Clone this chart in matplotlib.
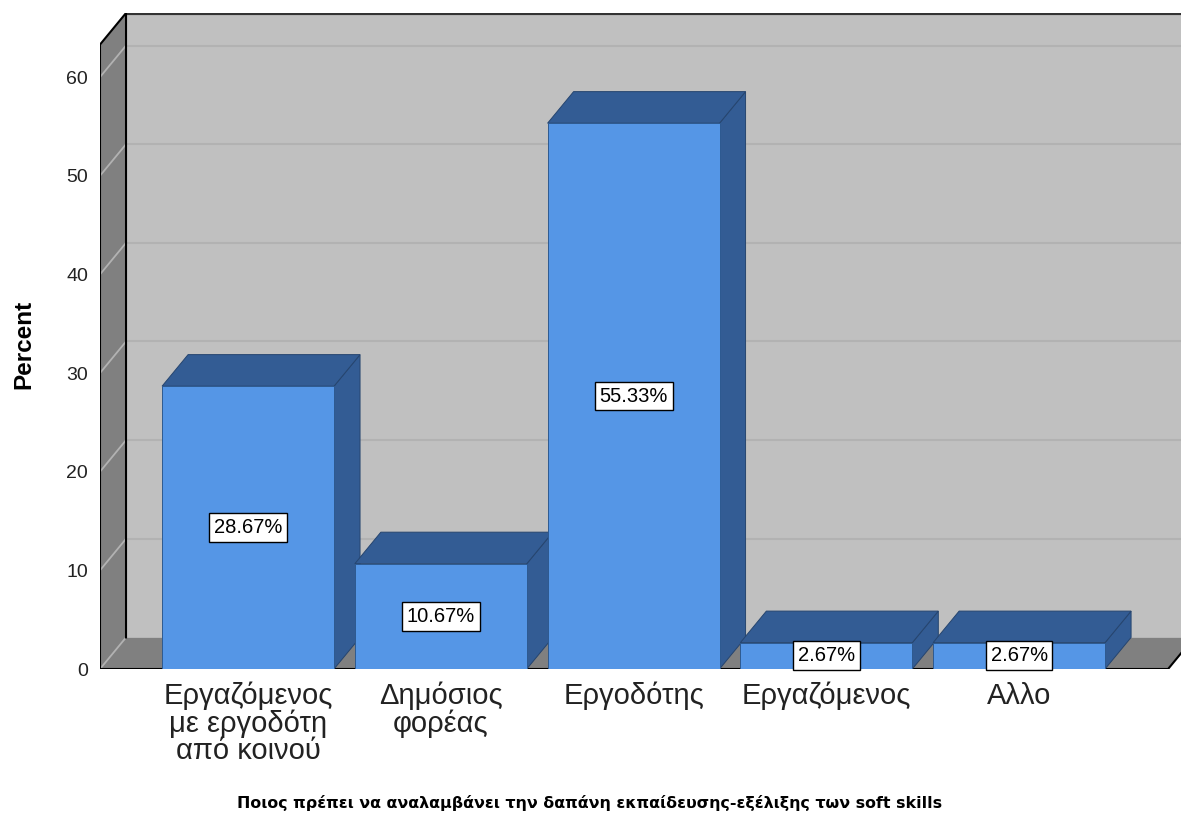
import matplotlib.pyplot as plt
from matplotlib.patches import Polygon

plt.rcParams['font.family'] = ['Liberation Sans', 'DejaVu Sans']

# who should pay for soft-skills training (percent of respondents)
categories = ["Εργαζόμενος\nμε εργοδότη\nαπό κοινού", "Δημόσιος\nφορέας", "Εργοδότης",
              "Εργαζόμενος", "Αλλο"]
percents = [28.67, 10.67, 55.33, 2.67, 2.67]
y_ticks = [0, 10, 20, 30, 40, 50, 60]
title = "Ποιος πρέπει να αναλαμβάνει την δαπάνη εκπαίδευσης-εξέλιξης των soft skills"

# colours
FACE = "#5596E6"
SHADE = "#335C94"
WALL = "#C0C0C0"
SIDE_WALL = "#808080"
GRID = "#B2B2B2"

# pseudo-3d geometry in data units
X_LEFT, X_RIGHT = -0.768, 4.773
Y_TOP = 63.3
DX, DY = 0.135, 3.2
BAR_W = 0.892

W, H = 1181, 821
fig = plt.figure(figsize=(W / 100, H / 100), dpi=100)
ax = fig.add_axes([100 / W, 152 / H, 1081 / W, 656 / H])
ax.set_xlim(X_LEFT, 4.840)
ax.set_ylim(0, Y_TOP + DY)
for s in ax.spines.values():
    s.set_visible(False)


def poly(pts, fc, ec="none", lw=0.0, z=1):
    ax.add_patch(Polygon(pts, closed=True, facecolor=fc, edgecolor=ec,
                         linewidth=lw, zorder=z, joinstyle="miter"))


# back wall, left wall, floor
poly([(X_LEFT + DX, DY), (X_RIGHT + 2, DY), (X_RIGHT + 2, Y_TOP + DY),
      (X_LEFT + DX, Y_TOP + DY)], WALL, z=1)
poly([(X_LEFT, 0), (X_LEFT + DX, DY), (X_LEFT + DX, Y_TOP + DY), (X_LEFT, Y_TOP)],
     SIDE_WALL, z=1)
poly([(X_LEFT, 0), (X_RIGHT, 0), (X_RIGHT + DX, DY), (X_LEFT + DX, DY)],
     SIDE_WALL, z=1)

# grid lines on back and left walls
for t in y_ticks:
    ax.plot([X_LEFT, X_LEFT + DX], [t, t + DY], color=GRID, lw=1.3, zorder=2)
    if t > 0:
        ax.plot([X_LEFT + DX, X_RIGHT + 2], [t + DY, t + DY], color=GRID, lw=1.5, zorder=2)

# wall outlines
ax.plot([X_LEFT + DX, X_RIGHT + 2], [Y_TOP + DY, Y_TOP + DY], color="#333333", lw=3,
        zorder=3, solid_capstyle="butt")
ax.plot([X_LEFT, X_LEFT, X_LEFT + DX, X_LEFT + DX], [0, Y_TOP, Y_TOP + DY, DY],
        color="black", lw=1.5, zorder=3)
ax.plot([X_LEFT, X_RIGHT, X_RIGHT + DX], [0, 0, DY], color="black", lw=1.5, zorder=3)

# bars, drawn left to right so each one hides the side of the previous
for i, v in enumerate(percents):
    x0, x1 = i - BAR_W / 2, i + BAR_W / 2
    z = 4 + i
    poly([(x1, 0), (x1 + DX, DY), (x1 + DX, v + DY), (x1, v)], SHADE, "#26456F", 0.7, z)
    poly([(x0, v), (x1, v), (x1 + DX, v + DY), (x0 + DX, v + DY)], SHADE, "#26456F", 0.7, z)
    poly([(x0, 0), (x1, 0), (x1, v), (x0, v)], FACE, "#2E5A90", 0.7, z)
    ax.text(i, v / 2, f"{v:.2f}%", ha="center", va="center", fontsize=14.5, zorder=20,
            color="black",
            bbox=dict(boxstyle="square,pad=0.24", fc="white", ec="black", lw=1.0))

ax.set_yticks(y_ticks)
ax.set_yticklabels([str(t) for t in y_ticks], fontsize=14, color="#222222")
ax.set_xticks(range(len(categories)))
ax.set_xticklabels(categories, fontsize=21, color="#222222", linespacing=0.97)
ax.tick_params(axis="y", length=0, pad=8.5)
ax.tick_params(axis="x", length=0, pad=9)

fig.text(24 / W, 1 - 344 / H, "Percent", rotation=90, ha="center", va="center",
         fontsize=17.5, fontweight="bold")
fig.text(590 / W, 1 - 803 / H, title, ha="center", va="center", fontsize=11.4,
         fontweight="bold", family=["DejaVu Sans"])

fig.savefig("out.png", dpi=100)
